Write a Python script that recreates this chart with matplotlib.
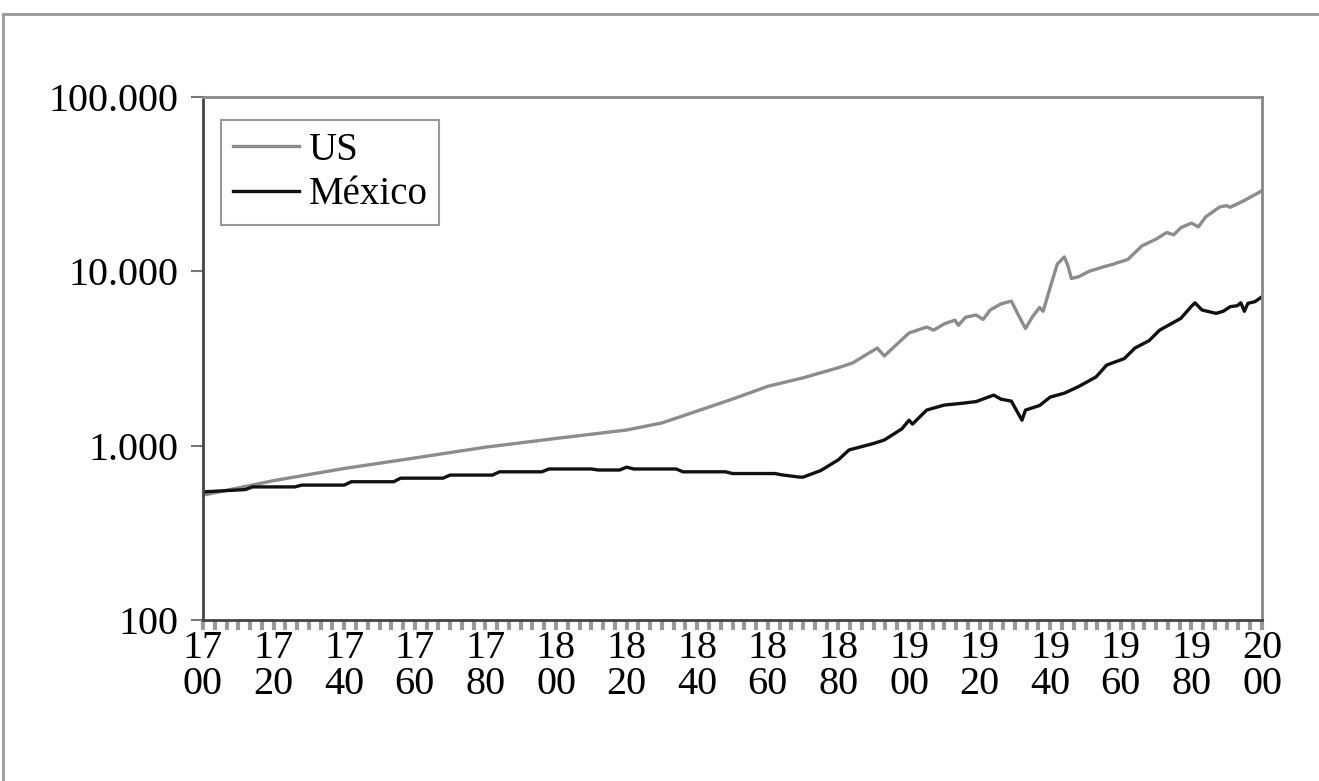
import numpy as np
import matplotlib.pyplot as plt
from matplotlib.ticker import FixedLocator, MultipleLocator
from matplotlib.lines import Line2D

# Data (GDP per capita)
us_years = [1700, 1720, 1740, 1760, 1780, 1800, 1820, 1830, 1840, 1850, 1860, 1870,
            1880, 1884, 1891, 1893, 1900, 1905, 1907, 1910, 1913, 1914, 1916, 1919,
            1921, 1923, 1926, 1929, 1931, 1933, 1935, 1937, 1938, 1940, 1942, 1944,
            1945, 1946, 1948, 1951, 1955, 1958, 1959, 1962, 1966, 1970, 1973, 1975,
            1977, 1980, 1982, 1984, 1988, 1990, 1991, 1995, 2000]
us_gdp = [520, 630, 740, 850, 980, 1100, 1230, 1350, 1580, 1850, 2190, 2450,
          2800, 2980, 3630, 3270, 4430, 4790, 4600, 5000, 5250, 4900, 5450, 5620,
          5300, 6000, 6500, 6750, 5600, 4700, 5500, 6200, 5900, 8100, 11000, 12100,
          10800, 9100, 9300, 10000, 10600, 11000, 11200, 11700, 14000, 15300, 16700, 16200,
          17800, 18900, 18000, 20500, 23400, 23800, 23300, 25500, 29000]

mx_years = [1700, 1712, 1714, 1726, 1728, 1740, 1742, 1754, 1756, 1768, 1770, 1782,
            1784, 1796, 1798, 1810, 1812, 1818, 1820, 1822, 1834, 1836, 1848, 1850,
            1862, 1864, 1869, 1870, 1875, 1880, 1883, 1890, 1893, 1898, 1900, 1901,
            1905, 1910, 1915, 1919, 1924, 1926, 1929, 1932, 1933, 1937, 1940, 1944,
            1948, 1953, 1956, 1961, 1964, 1968, 1971, 1975, 1977, 1980, 1981, 1983,
            1987, 1989, 1991, 1993, 1994, 1995, 1996, 1998, 2000]
mx_gdp = [543, 560, 580, 580, 594, 594, 621, 621, 651, 651, 678, 678,
          708, 708, 735, 735, 725, 725, 753, 735, 735, 708, 708, 692,
          692, 680, 660, 660, 720, 830, 945, 1030, 1077, 1250, 1400, 1330,
          1600, 1710, 1750, 1790, 1950, 1850, 1800, 1400, 1600, 1700, 1900, 2000,
          2180, 2480, 2900, 3160, 3630, 4000, 4600, 5100, 5370, 6300, 6600, 6000,
          5740, 5900, 6270, 6350, 6600, 5900, 6550, 6700, 7150]

x_labels = ["%d\n%02d" % (y // 100, y % 100) for y in range(1700, 2001, 20)]
y_ticks = [100, 1000, 10000, 100000]
y_labels = ["100", "1.000", "10.000", "100.000"]

serif = "Liberation Serif"

fig = plt.figure(figsize=(13.19, 7.81), dpi=100)
ax = fig.add_axes([203 / 1319, 1 - 620 / 781, 1059 / 1319, 523 / 781])

ax.plot(us_years, us_gdp, color="#8c8c8c", lw=2.4, label="US")
ax.plot(mx_years, mx_gdp, color="#111111", lw=2.4, label="México")

ax.set_yscale("log")
ax.set_ylim(100, 100000)
ax.set_xlim(1700, 2000)

ax.yaxis.set_major_locator(FixedLocator(y_ticks))
ax.yaxis.set_minor_locator(FixedLocator([]))
ax.set_yticklabels(y_labels, fontfamily=serif, fontsize=29)
ax.tick_params(axis="y", direction="out", length=9, width=1.5, color="#777777", pad=9)

ax.xaxis.set_major_locator(FixedLocator(range(1700, 2001, 20)))
ax.xaxis.set_minor_locator(MultipleLocator(20 / 6))
ax.set_xticklabels(x_labels, fontfamily=serif, fontsize=29, linespacing=0.98)
ax.tick_params(axis="x", which="both", direction="out", length=7, width=3,
               color="#9a9a9a", pad=0)

for side in ["top", "right"]:
    ax.spines[side].set_color("#888888")
    ax.spines[side].set_linewidth(2)
for side in ["left", "bottom"]:
    ax.spines[side].set_color("#444444")
    ax.spines[side].set_linewidth(2)

leg = ax.legend(loc="upper left", bbox_to_anchor=(18 / 1059, 1 - 23 / 523),
                borderaxespad=0, fancybox=False, framealpha=1,
                prop={"family": serif, "size": 28}, handlelength=1.7,
                handletextpad=0.25, labelspacing=0.2, borderpad=0.3)
leg.get_frame().set_edgecolor("#999999")
leg.get_frame().set_linewidth(1.5)

# outer frame of the figure
fig.add_artist(Line2D([3 / 1319, 1], [1 - 14 / 781, 1 - 14 / 781],
                      transform=fig.transFigure, color="#999999", lw=2))
fig.add_artist(Line2D([3 / 1319, 3 / 1319], [0, 1 - 14 / 781],
                      transform=fig.transFigure, color="#999999", lw=2))

fig.savefig("out.png", dpi=100)
